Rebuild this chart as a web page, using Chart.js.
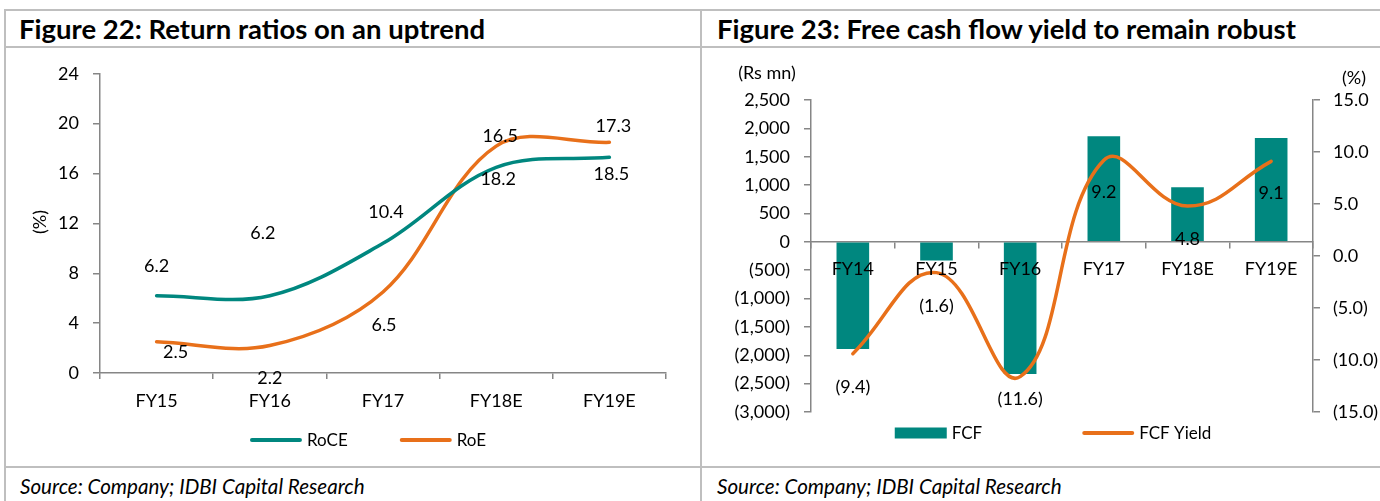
<!DOCTYPE html>
<html>
<head>
<meta charset="utf-8">
<script src="https://cdn.jsdelivr.net/npm/chart.js@4.4.0/dist/chart.umd.min.js"></script>
<style>
  html, body { margin: 0; padding: 0; background: #fff; }
  body { width: 1380px; height: 501px; overflow: hidden; position: relative; font-family: Lato, "Open Sans", sans-serif; color: #000; }
  .rule { position: absolute; background: #bfbfbf; }
  .title { position: absolute; top: 11px; height: 35px; line-height: 36px; font-weight: bold; font-size: 27.5px; white-space: nowrap; }
  .source { position: absolute; top: 470px; height: 31px; line-height: 33px; font-style: italic; font-size: 20.6px; white-space: nowrap; }
  canvas { position: absolute; }
</style>
</head>
<body>
<div class="rule" style="left:4px;top:9px;width:1376px;height:2px"></div>
<div class="rule" style="left:4px;top:46px;width:1376px;height:2px"></div>
<div class="rule" style="left:4px;top:466px;width:1376px;height:2px"></div>
<div class="rule" style="left:4px;top:9px;width:2px;height:492px"></div>
<div class="rule" style="left:700px;top:9px;width:2px;height:492px"></div>

<div class="title" style="left:19px">Figure 22: Return ratios on an uptrend</div>
<div class="title" style="left:717px">Figure 23: Free cash flow yield to remain robust</div>
<div class="source" style="left:20px">Source: Company; IDBI Capital Research</div>
<div class="source" style="left:717px">Source: Company; IDBI Capital Research</div>

<canvas id="ratios" width="692" height="416" style="left:7px;top:49px"></canvas>
<canvas id="fcf" width="700" height="416" style="left:703px;top:49px"></canvas>

<script>
// Figure 22 data
const ratioYears = ["FY15", "FY16", "FY17", "FY18E", "FY19E"];
const roce = [6.2, 6.2, 10.4, 16.5, 17.3];
const roe = [2.5, 2.2, 6.5, 18.2, 18.5];
const ratioTicks = [0, 4, 8, 12, 16, 20, 24];

// Figure 23 data
const fcfYears = ["FY14", "FY15", "FY16", "FY17", "FY18E", "FY19E"];
const fcf = [-1890, -330, -2330, 1860, 960, 1830];
const fcfYield = [-9.4, -1.6, -11.6, 9.2, 4.8, 9.1];
const fcfTicks = [2500, 2000, 1500, 1000, 500, 0, -500, -1000, -1500, -2000, -2500, -3000];
const yieldTicks = [15, 10, 5, 0, -5, -10, -15];

const TEAL = "#00877f";
const ORANGE = "#e8701a";
const AXIS = "#868686";
const FONT = { family: "Lato, 'Open Sans', sans-serif", size: 18 };
const FONT_CSS = "18px Lato, 'Open Sans', sans-serif";
const LEGEND_CSS = "17px Lato, 'Open Sans', sans-serif";

// accounting style: negatives in brackets
function paren(v, digits) {
  const s = Math.abs(v).toLocaleString("en-US", { minimumFractionDigits: digits, maximumFractionDigits: digits });
  return v < 0 ? "(" + s + ")" : s;
}

// value labels next to each point
const valueLabels = {
  id: "valueLabels",
  afterDatasetsDraw(chart, args, opts) {
    const ctx = chart.ctx;
    ctx.save();
    ctx.font = FONT_CSS;
    ctx.fillStyle = "#000";
    ctx.textAlign = "center";
    ctx.textBaseline = "middle";
    (opts.sets || []).forEach(set => {
      const meta = chart.getDatasetMeta(set.index);
      const vals = chart.data.datasets[set.index].data;
      meta.data.forEach((pt, i) => {
        const dx = set.dx ? set.dx[i] : 0;
        ctx.fillText(set.format(vals[i]), pt.x + dx, pt.y + set.dy[i]);
      });
    });
    ctx.restore();
  }
};

// one-row legend, bar = box, line = stroke
const rowLegend = {
  id: "rowLegend",
  afterDraw(chart, args, opts) {
    const ctx = chart.ctx;
    ctx.save();
    ctx.font = LEGEND_CSS;
    ctx.textBaseline = "middle";
    ctx.textAlign = "left";
    const items = chart.data.datasets.map(ds => ({
      ds,
      w: opts.swatch + opts.textGap + ctx.measureText(ds.label).width
    }));
    const total = items.reduce((s, it) => s + it.w, 0) + opts.gap * (items.length - 1);
    let x = opts.cx - total / 2;
    items.forEach(it => {
      const type = it.ds.type || chart.config.type;
      if (type === "bar") {
        ctx.fillStyle = it.ds.backgroundColor;
        ctx.fillRect(x, opts.cy - 5.5, opts.swatch, 11);
      } else {
        ctx.strokeStyle = it.ds.borderColor;
        ctx.lineWidth = 4;
        ctx.lineCap = "round";
        ctx.beginPath();
        ctx.moveTo(x + 2, opts.cy);
        ctx.lineTo(x + opts.swatch - 2, opts.cy);
        ctx.stroke();
      }
      ctx.fillStyle = "#000";
      ctx.fillText(it.ds.label, x + opts.swatch + opts.textGap, opts.cy + 1);
      x += it.w + opts.gap;
    });
    ctx.restore();
  }
};

// free-standing axis captions
const captions = {
  id: "captions",
  afterDraw(chart, args, opts) {
    const ctx = chart.ctx;
    ctx.save();
    ctx.font = FONT_CSS;
    ctx.fillStyle = "#000";
    ctx.textAlign = "center";
    ctx.textBaseline = "middle";
    (opts.items || []).forEach(c => {
      ctx.save();
      ctx.translate(c.x, c.y);
      if (c.rotate) ctx.rotate(c.rotate);
      ctx.fillText(c.text, 0, 0);
      ctx.restore();
    });
    ctx.restore();
  }
};

const axisGrid = { drawOnChartArea: false, color: AXIS, lineWidth: 1.5, tickLength: 7 };
const axisBorder = { color: AXIS, width: 1.5 };

new Chart(document.getElementById("ratios"), {
  type: "line",
  data: {
    labels: ratioYears,
    datasets: [
      { label: "RoCE", data: roce, borderColor: TEAL, backgroundColor: TEAL, borderWidth: 3.5, pointRadius: 0, tension: 0.35, borderCapStyle: "round" },
      { label: "RoE", data: roe, borderColor: ORANGE, backgroundColor: ORANGE, borderWidth: 3.5, pointRadius: 0, tension: 0.35, borderCapStyle: "round" }
    ]
  },
  options: {
    responsive: false,
    animation: false,
    events: [],
    layout: { padding: { top: 23, right: 33, bottom: 42, left: 0 } },
    plugins: {
      legend: { display: false },
      tooltip: { enabled: false },
      valueLabels: {
        sets: [
          { index: 0, dy: [-30, -63, -31, -31, -31], dx: [0, -7, 3, 4, 4], format: v => v.toFixed(1) },
          { index: 1, dy: [10, 33, 33, 33, 32], dx: [19, 0, 1, 2, 2], format: v => v.toFixed(1) }
        ]
      },
      rowLegend: { cx: 361, cy: 391, swatch: 52, textGap: 5, gap: 52 },
      captions: { items: [{ text: "(%)", x: 33, y: 173, rotate: -Math.PI / 2 }] }
    },
    scales: {
      x: {
        offset: true,
        grid: { ...axisGrid, offset: true, tickLength: 6 },
        border: axisBorder,
        ticks: { font: FONT, color: "#000", padding: 11 },
        afterFit: s => { s.height = 50; }
      },
      y: {
        min: 0,
        max: 24,
        afterBuildTicks: s => { s.ticks = ratioTicks.map(v => ({ value: v })); },
        grid: axisGrid,
        border: axisBorder,
        ticks: { font: FONT, color: "#000", padding: 14 },
        afterFit: s => { s.width = 93; }
      }
    }
  },
  plugins: [valueLabels, rowLegend, captions]
});

new Chart(document.getElementById("fcf"), {
  type: "bar",
  data: {
    labels: fcfYears,
    datasets: [
      { label: "FCF", data: fcf, backgroundColor: TEAL, yAxisID: "y", order: 1, barPercentage: 0.39, categoryPercentage: 1 },
      { type: "line", label: "FCF Yield", data: fcfYield, borderColor: ORANGE, backgroundColor: ORANGE, borderWidth: 3.5, pointRadius: 0, tension: 0.42, borderCapStyle: "round", yAxisID: "y1", order: 0 }
    ]
  },
  options: {
    responsive: false,
    animation: false,
    events: [],
    layout: { padding: { top: 51, right: 0, bottom: 53, left: 0 } },
    plugins: {
      legend: { display: false },
      tooltip: { enabled: false },
      valueLabels: {
        sets: [
          { index: 1, dy: [33, 34, 23, 32, 33, 32], format: v => paren(v, 1) }
        ]
      },
      rowLegend: { cx: 350, cy: 384, swatch: 52, textGap: 5, gap: 100 },
      captions: { items: [{ text: "(Rs mn)", x: 64, y: 24 }, { text: "(%)", x: 651, y: 29 }] }
    },
    scales: {
      x: {
        position: { y: 0 },
        offset: true,
        grid: { ...axisGrid, offset: true, tickLength: 6 },
        border: axisBorder,
        ticks: { font: FONT, color: "#000", padding: 11, z: 1 }
      },
      y: {
        position: "left",
        min: -3000,
        max: 2500,
        afterBuildTicks: s => { s.ticks = fcfTicks.map(v => ({ value: v })); },
        grid: axisGrid,
        border: axisBorder,
        ticks: { font: FONT, color: "#000", padding: 14, callback: v => paren(v, 0) },
        afterFit: s => { s.width = 108; }
      },
      y1: {
        position: "right",
        min: -15,
        max: 15,
        afterBuildTicks: s => { s.ticks = yieldTicks.map(v => ({ value: v })); },
        grid: axisGrid,
        border: axisBorder,
        ticks: { font: FONT, color: "#000", padding: 13, callback: v => paren(v, 1) },
        afterFit: s => { s.width = 90; }
      }
    }
  },
  plugins: [valueLabels, rowLegend, captions]
});
</script>
</body>
</html>
